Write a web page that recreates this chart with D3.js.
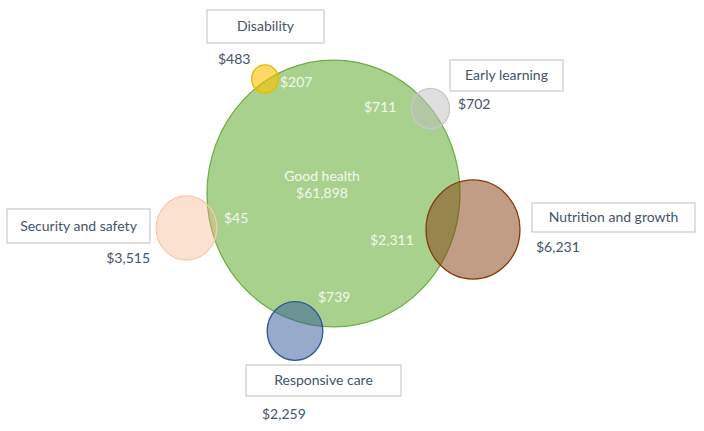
<!DOCTYPE html>
<html><head><meta charset="utf-8">
<script src="https://cdn.jsdelivr.net/npm/d3@7"></script>
<style>html,body{margin:0;padding:0;background:#fff;}svg{display:block;}</style>
</head><body>
<svg id="chart" width="704" height="431"></svg>
<script>
// Data
const categories = ["Good health", "Disability", "Early learning", "Security and safety", "Nutrition and growth", "Responsive care"];
const ownValues = [61898, 483, 702, 3515, 6231, 2259];
const overlapValues = [null, 207, 711, 45, 2311, 739];

// Layout (positions/styles, not data)
const centers = [[333.5,193.5],[265,79],[430.5,108.5],[186.5,228],[473,229.5],[295,331]];
const fills = ["#a9d18e","#ffc000","#bfbfbf","#f4b183","#843c0c","#2f5597"];
const fillOp = [1,0.6,0.5,0.38,0.5,0.5];
const strokes = ["#70ad47","#e6b800","#c8c8c8","#f3cdb3","#843c0c","#2f5597"];
const boxes = [null,[207,10,117,33],[450,60,113,31],[7,209,143,34],[532,203,163,29],[246,365,155,31]];
const valuePos = [null,[218,59,"start"],[458,104,"start"],[150,258,"end"],[536,247,"start"],[262,414,"start"]];
const overlapPos = [null,[280,82,"start"],[364,107,"start"],[224,218,"start"],[370,240,"start"],[318,297,"start"]];

const fmt = v => "$" + d3.format(",")(v);
const svg = d3.select("#chart");
const font = "Lato, 'Open Sans', sans-serif";

const sizeVal = categories.map((c,i) => i === 0 ? ownValues[i] : ownValues[i] + overlapValues[i]);
const r = d3.scaleSqrt().domain([0, ownValues[0]]).range([0, 126.5]);
const stretch = 1.055;

const data = categories.map((c,i) => ({c, i, own: ownValues[i], ov: overlapValues[i], s: sizeVal[i]}));

svg.selectAll("ellipse").data(data).join("ellipse")
  .attr("cx", d => centers[d.i][0]).attr("cy", d => centers[d.i][1])
  .attr("rx", d => r(d.s)).attr("ry", d => r(d.s) * stretch)
  .attr("fill", d => fills[d.i]).attr("fill-opacity", d => fillOp[d.i])
  .attr("stroke", d => strokes[d.i]).attr("stroke-width", 1.3);

// label boxes
const lab = data.filter(d => d.i > 0);
svg.selectAll("rect.box").data(lab).join("rect").attr("class","box")
  .attr("x", d => boxes[d.i][0]).attr("y", d => boxes[d.i][1])
  .attr("width", d => boxes[d.i][2]).attr("height", d => boxes[d.i][3])
  .attr("fill", "#fff").attr("stroke", "#bfbfbf").attr("stroke-width", 1);
svg.selectAll("text.cat").data(lab).join("text").attr("class","cat")
  .attr("x", d => boxes[d.i][0] + boxes[d.i][2]/2).attr("y", d => boxes[d.i][1] + boxes[d.i][3]/2)
  .attr("dy", "0.35em").attr("text-anchor","middle")
  .attr("font-family", font).attr("font-size", 14).attr("fill", "#44546a")
  .text(d => d.c);
svg.selectAll("text.val").data(lab).join("text").attr("class","val")
  .attr("x", d => valuePos[d.i][0]).attr("y", d => valuePos[d.i][1])
  .attr("dy", "0.35em").attr("text-anchor", d => valuePos[d.i][2])
  .attr("font-family", font).attr("font-size", 14).attr("fill", "#44546a")
  .text(d => fmt(d.own));
svg.selectAll("text.ov").data(lab).join("text").attr("class","ov")
  .attr("x", d => overlapPos[d.i][0]).attr("y", d => overlapPos[d.i][1])
  .attr("dy", "0.35em").attr("text-anchor", d => overlapPos[d.i][2])
  .attr("font-family", font).attr("font-size", 14).attr("fill", "#f2f8ee")
  .text(d => fmt(d.ov));
// main label
const g0 = data[0];
svg.append("text").attr("x", 322).attr("y", 176).attr("dy","0.35em").attr("text-anchor","middle")
  .attr("font-family", font).attr("font-size", 14).attr("fill", "#f2f8ee").text(g0.c);
svg.append("text").attr("x", 322).attr("y", 193).attr("dy","0.35em").attr("text-anchor","middle")
  .attr("font-family", font).attr("font-size", 14).attr("fill", "#f2f8ee").text(fmt(g0.own));
</script>
</body></html>
